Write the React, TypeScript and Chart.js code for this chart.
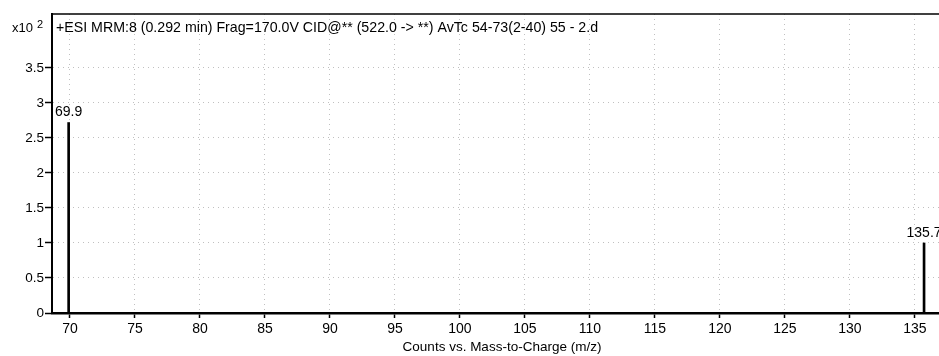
import React, { useEffect, useRef } from "react";
import { Chart, registerables } from "chart.js";

Chart.register(...registerables);

// ---- data ----
const peakMz = [69.9, 135.7];
const peakCounts = [2.72, 1.0]; // in units of x10^2
const peakLabels = ["69.9", "135.7"];
const xTickValues = [70, 75, 80, 85, 90, 95, 100, 105, 110, 115, 120, 125, 130, 135];
const yTickValues = [0, 0.5, 1, 1.5, 2, 2.5, 3, 3.5];
const yTickLabels = ["0", "0.5", "1", "1.5", "2", "2.5", "3", "3.5"];
const titleText =
  "+ESI MRM:8 (0.292 min) Frag=170.0V CID@** (522.0 -> **) AvTc 54-73(2-40) 55 - 2.d";
const xAxisTitle = "Counts vs. Mass-to-Charge (m/z)";
const yScaleBase = "x10";
const yScaleExp = "2";

const FONT = "'Liberation Sans', Arial, sans-serif";

const annotationPlugin = {
  id: "msAnnotations",
  afterDraw(chart: any) {
    const ctx = chart.ctx;
    const area = chart.chartArea;
    ctx.save();
    // top border of plot frame
    ctx.strokeStyle = "#000";
    ctx.lineWidth = 1.5;
    ctx.beginPath();
    ctx.moveTo(area.left, area.top);
    ctx.lineTo(area.right, area.top);
    ctx.stroke();

    ctx.fillStyle = "#000";
    // title inside plot
    ctx.font = `14.2px ${FONT}`;
    ctx.textAlign = "left";
    ctx.textBaseline = "middle";
    ctx.fillText(titleText, area.left + 4, area.top + 14);

    // scale factor label
    ctx.font = `13px ${FONT}`;
    ctx.textAlign = "left";
    ctx.fillText(yScaleBase, 12, area.top + 14);
    ctx.font = `11px ${FONT}`;
    ctx.fillText(yScaleExp, 37, area.top + 11);

    // peak labels
    ctx.font = `14px ${FONT}`;
    ctx.textAlign = "center";
    ctx.textBaseline = "bottom";
    const meta = chart.getDatasetMeta(0);
    meta.data.forEach((el: any, i: number) => {
      ctx.fillText(peakLabels[i], el.x, el.y - 3);
    });

    // x axis title
    ctx.font = `13.5px ${FONT}`;
    ctx.textBaseline = "middle";
    ctx.textAlign = "center";
    ctx.fillText(xAxisTitle, 502, 347);
    ctx.restore();
  },
};

export default function App() {
  const ref = useRef<HTMLCanvasElement | null>(null);
  useEffect(() => {
    if (!ref.current) return;
    const chart = new Chart(ref.current, {
      type: "bar",
      data: {
        datasets: [
          {
            data: peakMz.map((x, i) => ({ x, y: peakCounts[i] })),
            backgroundColor: "#000",
            borderWidth: 0,
            barThickness: 2,
          },
        ],
      },
      options: {
        responsive: false,
        animation: false,
        layout: { padding: { top: 14, left: 0, right: 0, bottom: 0 } },
        plugins: { legend: { display: false }, tooltip: { enabled: false } },
        scales: {
          x: {
            type: "linear",
            min: 68.62,
            max: 136.85,
            offset: false,
            grid: {
              offset: false,
              color: "#c0c0c0",
              lineWidth: 1,
              drawTicks: true,
              tickLength: 5,
              tickColor: "#000",
              tickWidth: 1.5,
              tickBorderDash: [],
            },
            border: { display: true, color: "#000", width: 2.5, dash: [1, 4] },
            ticks: {
              color: "#000",
              font: { family: FONT, size: 14 },
              padding: 3,
              maxRotation: 0,
              autoSkip: false,
            },
            afterBuildTicks: (s: any) => {
              s.ticks = xTickValues.map((v) => ({ value: v }));
            },
            afterFit: (s: any) => {
              s.height = 43;
            },
          },
          y: {
            type: "linear",
            min: 0,
            max: 4.27,
            grid: {
              color: "#c0c0c0",
              lineWidth: 1,
              drawTicks: true,
              tickLength: 7,
              tickColor: "#000",
              tickWidth: 1.5,
              tickBorderDash: [],
            },
            border: { display: true, color: "#000", width: 2, dash: [1, 4] },
            ticks: {
              color: "#000",
              font: { family: FONT, size: 13.5 },
              padding: 1,
              autoSkip: false,
              callback: (v: any) => {
                const i = yTickValues.indexOf(Number(v));
                return i >= 0 ? yTickLabels[i] : "";
              },
            },
            afterBuildTicks: (s: any) => {
              s.ticks = yTickValues.map((v) => ({ value: v }));
            },
            afterFit: (s: any) => {
              s.width = 52;
            },
          },
        },
      },
      plugins: [annotationPlugin],
    } as any);
    return () => chart.destroy();
  }, []);
  return (
    <canvas
      ref={ref}
      width={939}
      height={356}
      style={{ position: "absolute", left: 0, top: 0, width: 939, height: 356 }}
    />
  );
}
